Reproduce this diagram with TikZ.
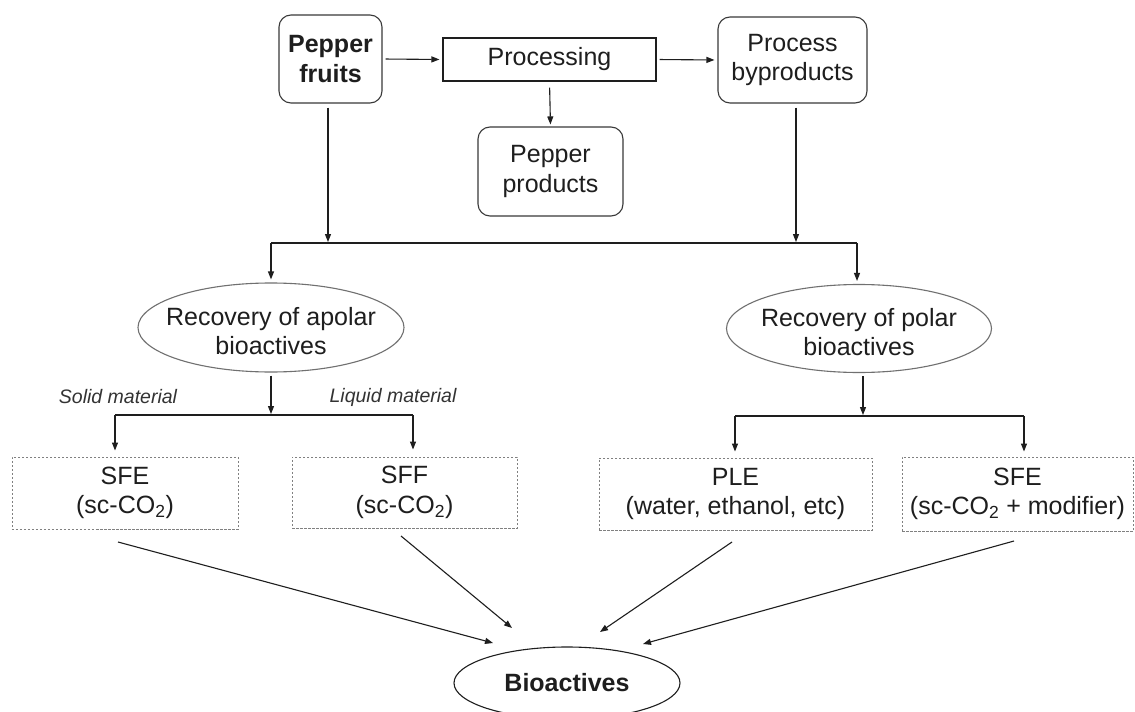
\documentclass[tikz,border=0pt]{standalone}
\usepackage{fontspec}
\setmainfont{Liberation Sans}
\usetikzlibrary{shapes.geometric,arrows.meta}
\definecolor{ink}{HTML}{1E1E1E}
\definecolor{edge}{HTML}{3A3A3A}
\definecolor{ellgray}{HTML}{707070}
\definecolor{dashgray}{HTML}{808080}
\definecolor{labgray}{HTML}{333333}
\tikzset{
  txt/.style={align=center, inner sep=0pt, text=ink, font=\fontsize{25bp}{29.5bp}\selectfont},
  rbox/.style={draw=edge, line width=1.1bp, rounded corners=12bp, inner sep=0pt},
  pbox/.style={draw=ink, line width=1.1bp, inner sep=0pt},
  dbox/.style={draw=dashgray, line width=0.9bp, dash pattern=on 2.5bp off 1.5bp, inner sep=0pt},
  ell/.style={ellipse, draw=ellgray, line width=1.1bp, inner sep=0pt},
  bell/.style={ellipse, draw=ink, line width=1.1bp, inner sep=0pt},
  conn/.style={draw=ink, line width=1.1bp},
  arr/.style={conn, -{Triangle[length=8bp,width=6bp]}},
  lab/.style={inner sep=0pt, text=labgray, font=\fontsize{19.5bp}{22bp}\selectfont\itshape},
}
\begin{document}
\begin{tikzpicture}[x=1bp, y=-1bp]
\useasboundingbox (0,0) rectangle (1135,712);
\fill[white] (0,0) rectangle (1135,712);

% top row
\node[rbox, txt, minimum width=103bp, minimum height=88bp] (fruits) at (330.5,59) {\bfseries Pepper\\\bfseries fruits};
\node[pbox, txt, minimum width=213bp, minimum height=43bp] (proc) at (549.5,59.5) {Processing};
\node[rbox, txt, minimum width=149bp, minimum height=86bp] (byprod) at (792.5,60) {Process\\byproducts};
\node[rbox, txt, minimum width=145bp, minimum height=89bp] (prods) at (550.5,171.5) {Pepper\\products};

\draw[arr, shorten <=3bp, shorten >=3bp] (fruits.east) -- (proc.west);
\draw[arr, shorten <=3bp, shorten >=3bp] (proc.east) -- (byprod.west);
\draw[arr, shorten <=6bp, shorten >=2bp] (proc.south) -- (prods.north);

% recovery ellipses
\node[ell, minimum width=266bp, minimum height=89bp] (apolar) at (271,327.5) {};
\node[txt] (apolarT) at (271,331) {Recovery of apolar\\bioactives};
\node[ell, minimum width=265bp, minimum height=88bp] (polar) at (859,328.5) {};
\node[txt] (polarT) at (859,332) {Recovery of polar\\bioactives};

% first split
\coordinate (hl) at (271,243);
\coordinate (hr) at (857,243);
\draw[arr, shorten <=4bp, shorten >=1bp] (fruits.south -| 328,0) -- (328,243);
\draw[arr, shorten <=4bp, shorten >=1bp] (byprod.south -| 796,0) -- (796,243);
\draw[conn] (hl) -- (hr);
\draw[arr, shorten >=3bp] (hl) -- (hl |- apolar.north);
\draw[arr, shorten >=3bp] (hr) -- (hr |- polar.north);

% method boxes
\node[dbox, txt, minimum width=226bp, minimum height=72bp] (sfe) at (125,493) {SFE\\(sc-CO\textsubscript{2})};
\node[dbox, txt, minimum width=225bp, minimum height=71bp] (sff) at (404.5,492.5) {SFF\\(sc-CO\textsubscript{2})};
\node[dbox, txt, minimum width=273bp, minimum height=72bp] (ple) at (735.5,494) {PLE\\(water, ethanol, etc)};
\node[dbox, txt, minimum width=231bp, minimum height=74bp] (sfem) at (1017.5,494) {SFE\\(sc-CO\textsubscript{2} + modifier)};

% apolar split
\coordinate (al) at (115,415);
\coordinate (ar) at (413,415);
\draw[arr, shorten <=3bp, shorten >=1bp] (apolar.south) -- (apolar.south |- al);
\draw[conn] (al) -- (ar);
\draw[arr, shorten >=6bp] (al) -- (al |- sfe.north);
\draw[arr, shorten >=7bp] (ar) -- (ar |- sff.north);
\node[lab] (solid) at (118,397) {Solid material};
\node[lab] (liquid) at (393,397) {Liquid material};

% polar split
\coordinate (pl) at (735,416);
\coordinate (pr) at (1024,416);
\draw[arr, shorten <=3bp, shorten >=1bp] (polar.south -| 863,0) -- (863,416);
\draw[conn] (pl) -- (pr);
\draw[arr, shorten >=6bp] (pl) -- (pl |- ple.north);
\draw[arr, shorten >=5bp] (pr) -- (pr |- sfem.north);

% bioactives
\node[bell, minimum width=226bp, minimum height=72bp] (bio) at (567,683) {};
\node[txt] (bioT) at (567,683) {\bfseries Bioactives};

\coordinate (s1) at (118,542);  \coordinate (e1) at (493,643);
\coordinate (s2) at (401,536);  \coordinate (e2) at (512,628);
\coordinate (s3) at (732,542);  \coordinate (e3) at (600,632);
\coordinate (s4) at (1014,541); \coordinate (e4) at (643,644);
\draw[arr] (s1) -- (e1);
\draw[arr] (s2) -- (e2);
\draw[arr] (s3) -- (e3);
\draw[arr] (s4) -- (e4);
\end{tikzpicture}
\end{document}
